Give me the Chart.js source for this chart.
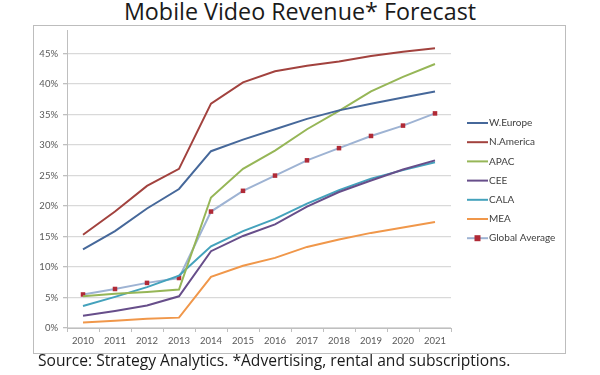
<!DOCTYPE html>
<html><head><meta charset="utf-8">
<script src="https://cdn.jsdelivr.net/npm/chart.js@4"></script>
<style>
body{margin:0;width:600px;height:375px;background:#fff;position:relative;overflow:hidden;font-family:"Open Sans",sans-serif}
#title{position:absolute;left:0;width:600px;top:-5px;text-align:center;font-size:23.3px;color:#1a1a1a;line-height:32px}
#box{position:absolute;left:33px;top:25px;width:531px;height:327px;border:1px solid #BDBDBD}
#box canvas{position:absolute;left:0;top:0}
#src{position:absolute;left:38px;top:350px;font-size:15.6px;color:#1a1a1a;line-height:21px;white-space:nowrap}
</style></head>
<body>
<div id="title">Mobile Video Revenue* Forecast</div>
<div id="box"><canvas id="c" width="531" height="327"></canvas></div>
<div id="src">Source: Strategy Analytics. *Advertising, rental and subscriptions.</div>
<script>
const years = ["2010","2011","2012","2013","2014","2015","2016","2017","2018","2019","2020","2021"];
const wEurope   = [12.9,15.9,19.6,22.8,29.0,30.9,32.6,34.3,35.7,36.8,37.8,38.8];
const nAmerica  = [15.3,19.1,23.3,26.1,36.8,40.3,42.1,43.0,43.7,44.6,45.3,45.9];
const apac      = [5.2,5.6,5.9,6.3,21.4,26.1,29.1,32.6,35.6,38.8,41.2,43.3];
const cee       = [2.0,2.8,3.7,5.2,12.6,15.1,17.0,19.9,22.3,24.2,26.0,27.5];
const cala      = [3.6,5.1,6.7,8.6,13.4,15.9,17.9,20.4,22.6,24.5,25.9,27.2];
const mea       = [0.9,1.2,1.5,1.7,8.4,10.2,11.5,13.3,14.5,15.6,16.5,17.4];
const globalAvg = [5.5,6.4,7.4,8.2,19.1,22.5,25.0,27.5,29.5,31.5,33.2,35.2];
const yTicks = [0,5,10,15,20,25,30,35,40,45];
const yMax = 48.88;

const mk = (label, data, color) => ({label, data, borderColor: color, backgroundColor: color, borderWidth: 2, pointRadius: 0, tension: 0, fill: false});
const datasets = [
  mk("W.Europe", wEurope, "#46689A"),
  mk("N.America", nAmerica, "#A2423E"),
  mk("APAC", apac, "#96B657"),
  mk("CEE", cee, "#674E8A"),
  mk("CALA", cala, "#44A2BC"),
  mk("MEA", mea, "#F0974A"),
  Object.assign(mk("Global Average", globalAvg, "#9EB3D3"), {pointRadius: 3.2, pointStyle: "rect", pointBackgroundColor: "#B02A36", pointBorderColor: "#B02A36", pointBorderWidth: 0})
];

const legendPlugin = {
  id: "customLegend",
  afterDraw(chart) {
    const ctx = chart.ctx;
    const x0 = 433, x1 = 454, tx = 455;
    let y = 97;
    ctx.save();
    ctx.font = "10px Lato";
    ctx.textBaseline = "middle";
    chart.data.datasets.forEach((ds, i) => {
      ctx.strokeStyle = ds.borderColor;
      ctx.lineWidth = 2;
      ctx.beginPath(); ctx.moveTo(x0, y); ctx.lineTo(x1, y); ctx.stroke();
      if (ds.pointStyle === "rect") {
        ctx.fillStyle = ds.pointBackgroundColor;
        ctx.fillRect((x0 + x1) / 2 - 3, y - 3, 6, 6);
      }
      ctx.fillStyle = "#404040";
      ctx.fillText(ds.label, tx, y);
      y += 19.2;
    });
    ctx.restore();
  }
};

new Chart(document.getElementById("c"), {
  type: "line",
  data: {labels: years, datasets},
  options: {
    responsive: false,
    animation: false,
    devicePixelRatio: 1,
    layout: {padding: {left: 0, right: 114, top: 0, bottom: 0}},
    plugins: {legend: {display: false}, title: {display: false}, tooltip: {enabled: false}},
    scales: {
      x: {
        offset: true,
        grid: {offset: true, drawOnChartArea: false, drawTicks: true, tickLength: 4, color: "#BFBFBF"},
        border: {color: "#BFBFBF"},
        ticks: {color: "#595959", font: {family: "Lato", size: 9.5}, padding: 3, maxRotation: 0},
        afterFit(s) { s.height = 25; s.paddingLeft = 0; s.paddingRight = 0; }
      },
      y: {
        min: 0, max: yMax,
        afterBuildTicks(s) { s.ticks = yTicks.map(v => ({value: v})); },
        grid: {color: "#D9D9D9", lineWidth: 1.3, tickLength: 4, tickColor: "#BFBFBF"},
        border: {color: "#BFBFBF"},
        ticks: {color: "#595959", font: {family: "Lato", size: 9.5}, padding: 5, callback: v => v + "%"},
        afterFit(s) { s.width = 33; s.paddingTop = 0; s.paddingBottom = 0; }
      }
    }
  },
  plugins: [legendPlugin]
});
</script>
</body></html>
